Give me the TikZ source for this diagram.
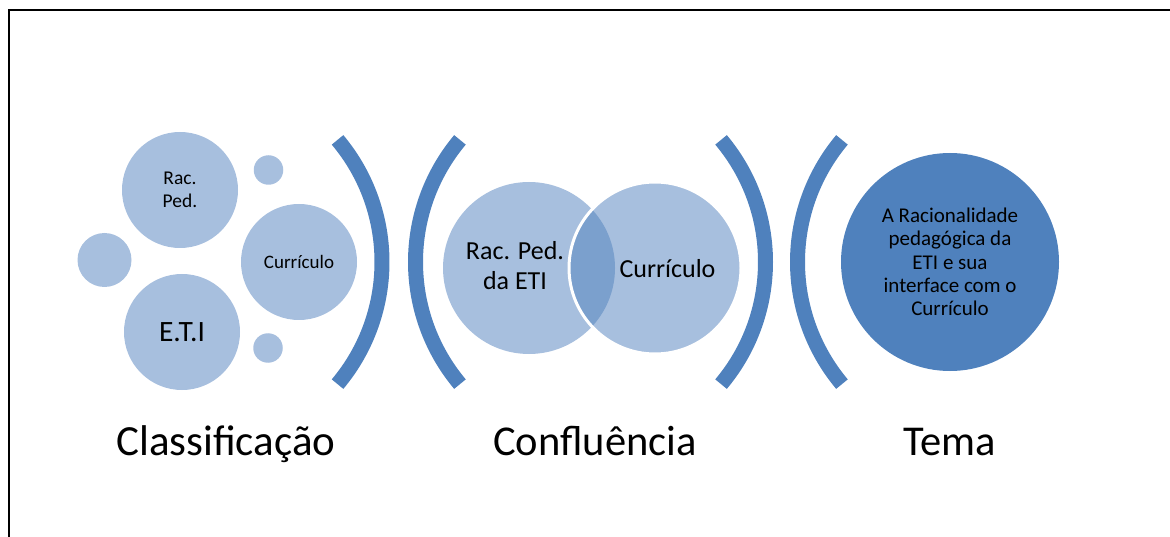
\documentclass[tikz,border=0pt]{standalone}
\usepackage{fontspec}
\setmainfont{Carlito}
\definecolor{lightblue}{HTML}{A7BFDE}
\definecolor{darkblue}{HTML}{4F81BD}
\definecolor{midblue}{HTML}{7BA0CD}

\begin{document}
\begin{tikzpicture}[x=1pt, y=-1pt,
    bubble/.style={circle, fill=lightblue, inner sep=0pt, align=center},
    bracket/.style={draw=darkblue, line width=15pt}]
    \useasboundingbox (0,0) rectangle (1170,537);
    \draw[line width=2pt] (9,537) -- (9,10) -- (1170,10);

    % first group: scattered bubbles
    \node[bubble, minimum size=116pt, font=\fontsize{19.5}{23}\selectfont] (rac) at (180,190) {Rac.\\Ped.};
    \node[bubble, minimum size=116pt, font=\fontsize{19}{23}\selectfont] (curr) at (299,262) {Currículo};
    \node[bubble, minimum size=116pt, font=\fontsize{29.5}{34}\selectfont] (eti) at (182,332) {E.T.I};
    \node[bubble, minimum size=54pt] (dotl) at (104.5,260) {};
    \node[bubble, minimum size=29.5pt] (dott) at (268.5,170) {};
    \node[bubble, minimum size=29.5pt] (dotb) at (268,348) {};

    % the four brackets
    \foreach \cx/\a in {192/0, 605.5/180, 575.5/0, 987.5/180}
        \draw[bracket] (\cx,262) ++(\a-40:190) arc (\a-40:\a+40:190);

    % second group: two overlapping circles
    \node[bubble, minimum size=172pt] (venl) at (529,268) {};
    \node[bubble, minimum size=172pt] (venr) at (655,268) {};
    \begin{scope}
        \clip (529,268) circle (86);
        \fill[midblue] (655,268) circle (86);
    \end{scope}
    \draw[white, line width=3pt] (655,268) circle (86);
    \node[align=center, font=\fontsize{26}{30}\selectfont] (racped) at (515,266) {Rac. Ped.\\da ETI};
    \node[font=\fontsize{26}{30}\selectfont] (currb) at (667.5,269) {Currículo};

    % third group
    \node[circle, fill=darkblue, inner sep=0pt, minimum size=218pt, align=center, font=\fontsize{21}{23.3}\selectfont] (tema) at (950,262) {A Racionalidade\\pedagógica da\\ETI e sua\\interface com o\\Currículo};

    % captions
    \node[anchor=base, font=\fontsize{43}{50}\selectfont] (lclass) at (226,455) {Classificação};
    \node[anchor=base, font=\fontsize{42.5}{50}\selectfont] (lconf) at (595,455) {Confluência};
    \node[anchor=base, font=\fontsize{42.5}{50}\selectfont] (ltema) at (950,455) {Tema};
\end{tikzpicture}
\end{document}
